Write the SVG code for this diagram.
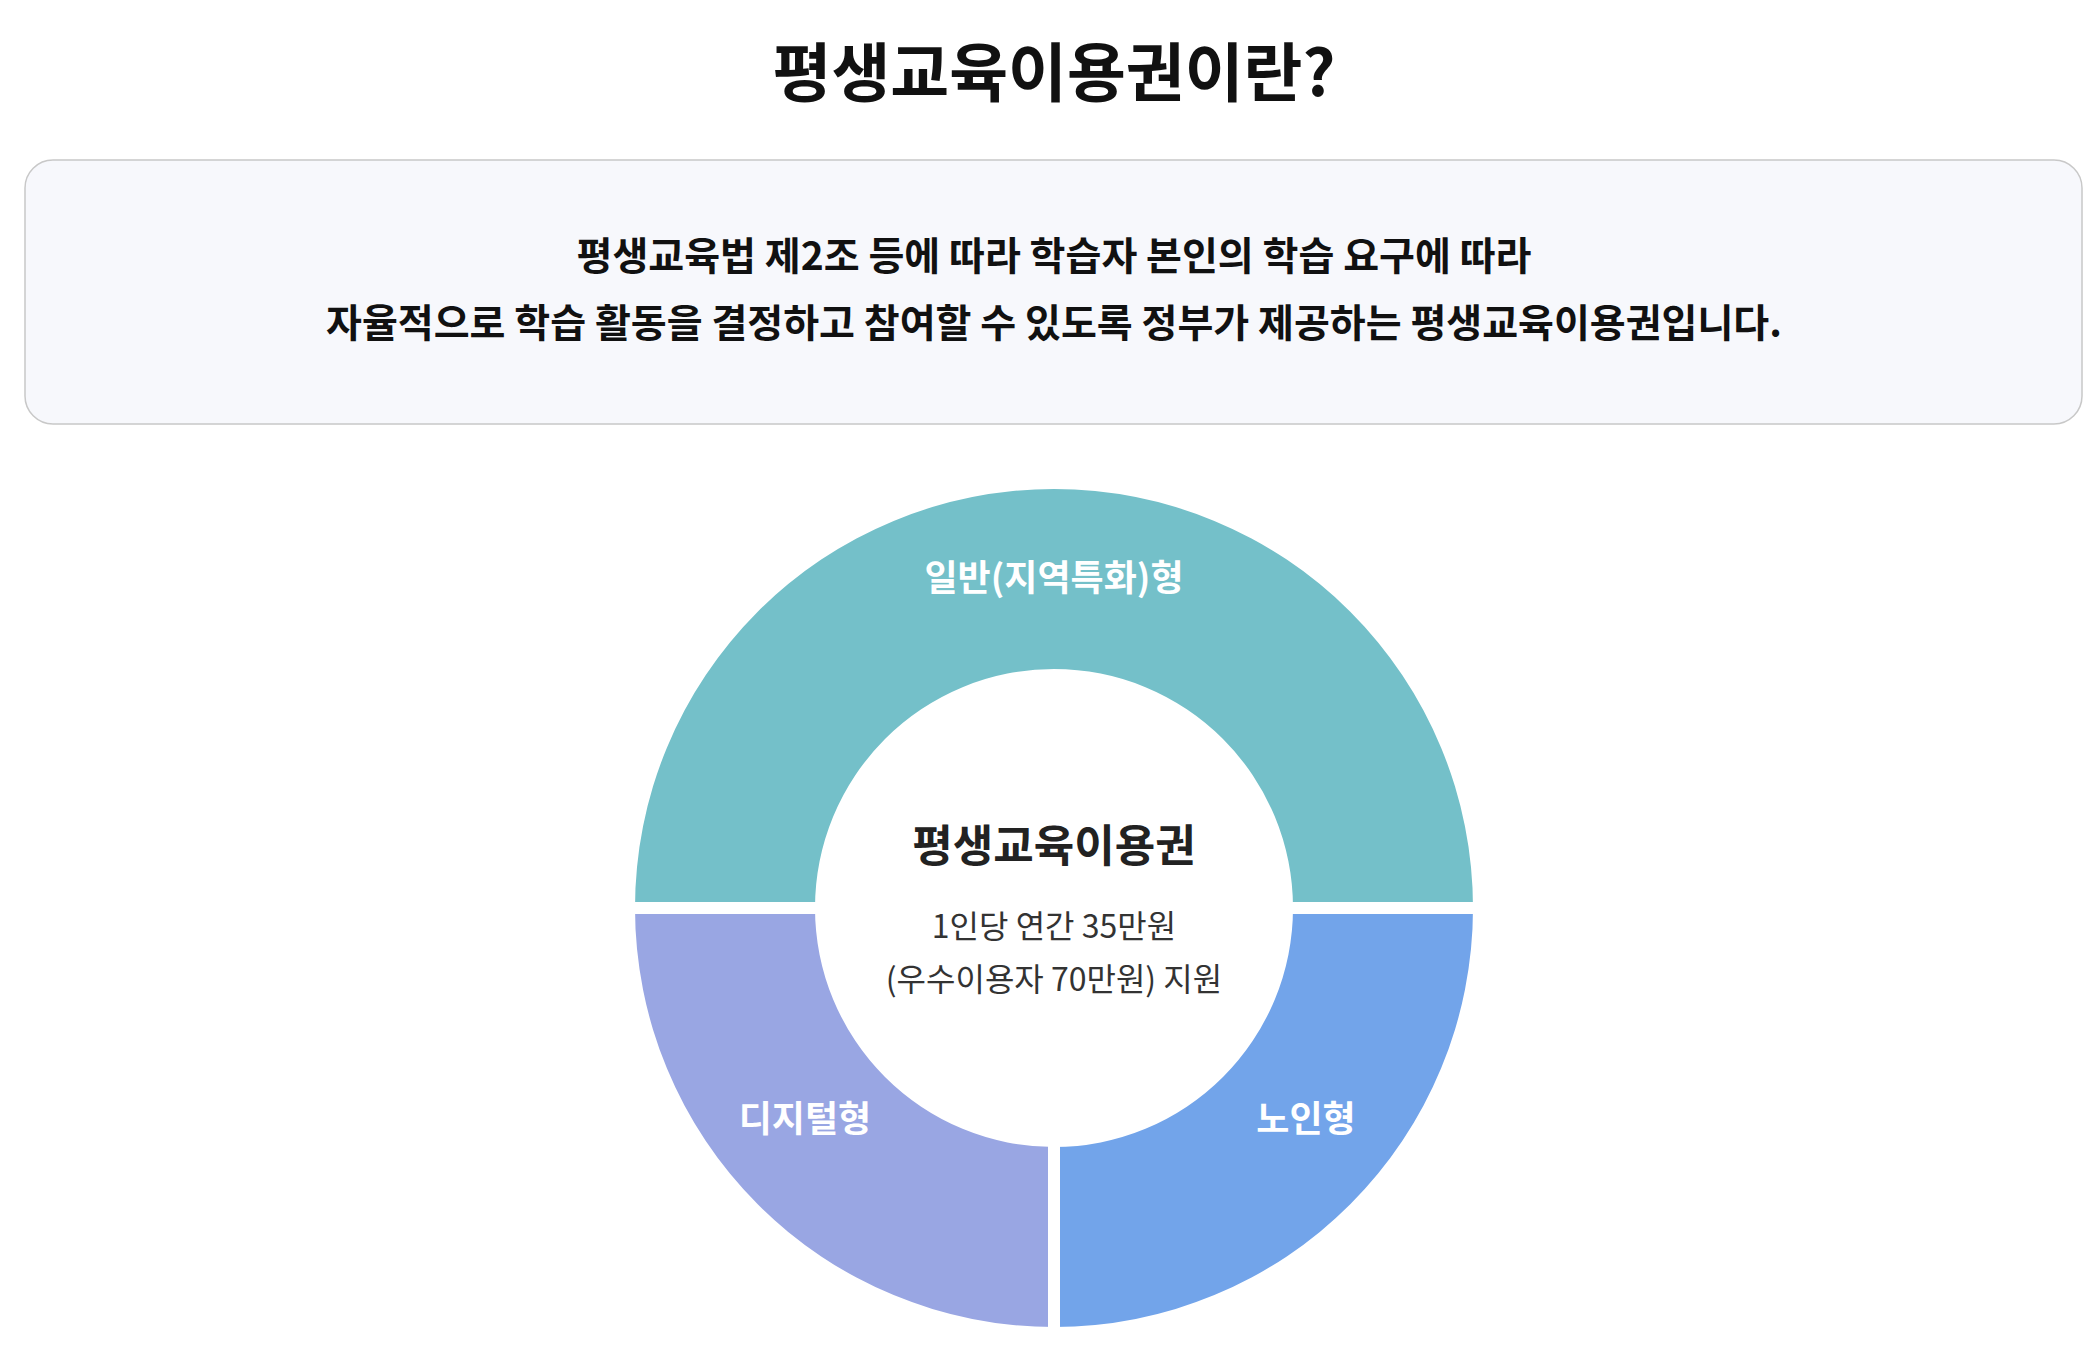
<svg xmlns="http://www.w3.org/2000/svg" width="2100" height="1358" viewBox="0 0 2100 1358">
<style>
text{font-family:"Noto Sans CJK KR","Noto Sans",sans-serif;text-anchor:middle;}
.t{font-size:64px;font-weight:700;fill:#111;}
.d{font-size:39px;font-weight:700;fill:#111;}
.s{font-size:36px;font-weight:700;fill:#fff;}
.c{font-size:32px;fill:#333;}
</style>
<rect width="2100" height="1358" fill="#fff"/>
<g id="title"><text class="t" x="1054" y="96">평생교육이용권이란?</text></g>
<g id="desc">
<rect x="25" y="160" width="2057" height="264" rx="28" fill="#f7f8fc" stroke="#c8c8c8" stroke-width="1.5"/>
<text class="d" x="1054" y="270">평생교육법 제2조 등에 따라 학습자 본인의 학습 요구에 따라</text>
<text class="d" x="1054" y="337">자율적으로 학습 활동을 결정하고 참여할 수 있도록 정부가 제공하는 평생교육이용권입니다.</text>
</g>
<g id="general">
<path d="M635 908 A419 419 0 0 1 1473 908 L1293 908 A239 239 0 0 0 815 908 Z" fill="#74c0c9"/>
<text class="s" x="1054" y="591">일반(지역특화)형</text>
</g>
<g id="digital">
<path d="M635 908 A419 419 0 0 0 1054 1327 L1054 1147 A239 239 0 0 1 815 908 Z" fill="#99a6e3"/>
<text class="s" x="805" y="1132">디지털형</text>
</g>
<g id="senior">
<path d="M1473 908 A419 419 0 0 1 1054 1327 L1054 1147 A239 239 0 0 0 1293 908 Z" fill="#72a4ea"/>
<text class="s" x="1306" y="1132">노인형</text>
</g>
<g id="connectors">
<line x1="620" y1="908" x2="1490" y2="908" stroke="#fff" stroke-width="12"/>
<line x1="1054" y1="908" x2="1054" y2="1340" stroke="#fff" stroke-width="12"/>
</g>
<g id="center">
<text x="1054" y="862" style="font-size:44px;font-weight:700;fill:#222">평생교육이용권</text>
<text class="c" x="1054" y="938">1인당 연간  35만원</text>
<text class="c" x="1054" y="991">(우수이용자 70만원) 지원</text>
</g>
</svg>
